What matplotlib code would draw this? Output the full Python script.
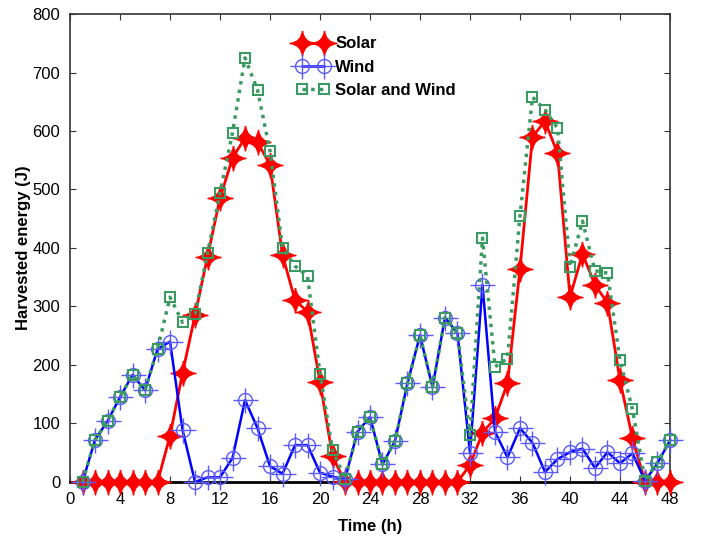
import numpy as np
import matplotlib.pyplot as plt
from matplotlib.path import Path
from matplotlib.legend_handler import HandlerTuple

plt.rcParams['font.family'] = ['Liberation Sans', 'DejaVu Sans']

# Данные: часы и собранная энергия, Дж
hours = np.arange(1, 49)
solar = [0, 0, 0, 0, 0, 0, 0, 79, 186, 285, 385, 485, 554, 588, 581, 542, 388, 311, 291, 171, 44,
         0, 0, 0, 0, 0, 0, 0, 0, 0, 0,
         29, 84, 109, 169, 364, 590, 617, 562, 316, 390, 337, 306, 174, 75, 0, 0, 0]
wind = [0, 72, 104, 145, 183, 157, 227, 240, 89, 0, 8, 8, 41, 140, 92, 27, 14, 63, 63, 16, 9,
        5, 86, 111, 30, 70, 169, 251, 162, 281, 254,
        50, 337, 86, 42, 92, 67, 17, 39, 51, 57, 24, 51, 32, 49, 2, 32, 71]
both = [0, 72, 104, 145, 183, 157, 227, 316, 273, 287, 391, 494, 597, 725, 670, 566, 400, 369, 352, 185, 55,
        5, 86, 111, 30, 70, 169, 251, 162, 281, 254,
        80, 417, 197, 211, 455, 658, 636, 605, 368, 446, 361, 357, 208, 124, 2, 34, 71]

# маркер-звезда с вогнутыми сторонами
c = 0.1
star = Path([(0, 1), (c, c), (1, 0), (c, -c), (0, -1), (-c, -c), (-1, 0), (-c, c), (0, 1)],
            [Path.MOVETO] + [Path.CURVE3] * 8)

fig = plt.figure(figsize=(7.08, 5.39), dpi=100)
ax = fig.add_axes([0.0989, 0.1058, 0.8474, 0.8682])

red = '#ff0000'
blue = '#0000ff'
green = '#3a9a62'

ln_s, = ax.plot(hours, solar, color=red, lw=2, marker=star, ms=18, mfc=red, mec=red,
                clip_on=False, zorder=3)
ln_w, = ax.plot(hours, wind, color=blue, lw=1.8, marker='o', ms=10, mfc='none',
                mec='#5a5aff', mew=1.0, clip_on=False, zorder=4)
ln_wp, = ax.plot(hours, wind, ls='none', marker='+', ms=18, mec='#5a5aff', mew=1.0,
                 clip_on=False, zorder=4)
ln_b, = ax.plot(hours, both, color=green, lw=2.5, ls=(0, (1, 1.5)), marker='s', ms=7,
                mfc='none', mec=green, mew=1.5, clip_on=False, zorder=5)

ax.set_xlim(0, 48)
ax.set_ylim(0, 800)
ax.set_xticks(np.arange(0, 49, 4))
ax.set_yticks(np.arange(0, 801, 100))
ax.tick_params(direction='in', top=True, right=True, labelsize=12, length=4, colors='#333333',
               labelcolor='black', pad=7)
for sp in ax.spines.values():
    sp.set_color('#333333')
    sp.set_linewidth(1.2)
ax.spines['bottom'].set_color('black')
ax.spines['bottom'].set_linewidth(2)

ax.set_xlabel('Time (h)', fontsize=12, fontweight='bold', labelpad=9)
ax.set_ylabel('Harvested energy (J)', fontsize=12, fontweight='bold', labelpad=1)

ax.legend([ln_s, (ln_w, ln_wp), ln_b], ['Solar', 'Wind', 'Solar and Wind'],
          handler_map={tuple: HandlerTuple(ndivide=1)}, numpoints=2,
          loc='upper left', bbox_to_anchor=(0.403, 0.954), bbox_transform=fig.transFigure,
          frameon=False, prop={'weight': 'bold', 'size': 12}, labelspacing=0.5,
          handlelength=1.9, handletextpad=0.4, borderpad=0.2)

plt.savefig('out.png', dpi=100)
